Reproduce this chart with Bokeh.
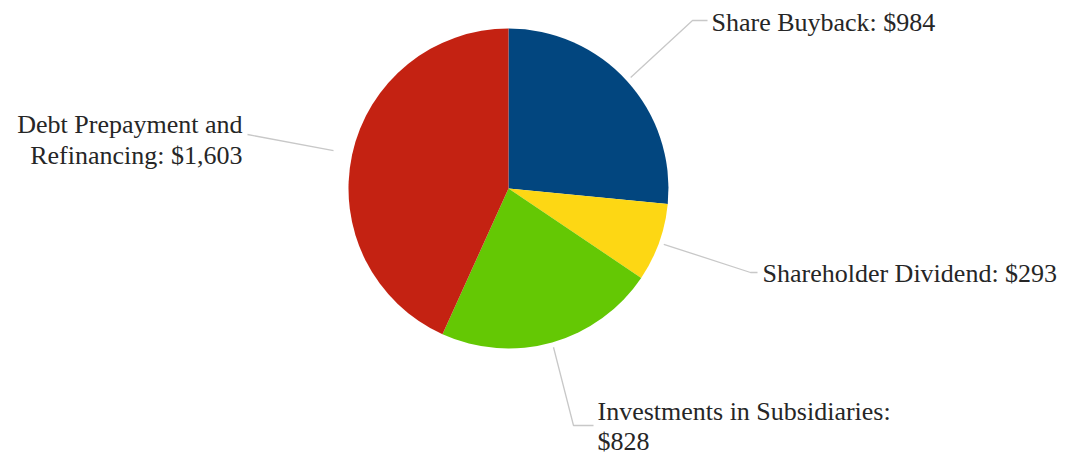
import numpy as np
from bokeh.plotting import figure
from bokeh.models import Range1d, ColumnDataSource
from bokeh.embed import file_html
from bokeh.resources import INLINE
from bokeh.core.properties import value

# ---- data ----
categories = ["Share Buyback", "Shareholder Dividend",
              "Investments in Subsidiaries", "Debt Prepayment and Refinancing"]
amounts = [984, 293, 828, 1603]
colors = ["#02467f", "#fdd714", "#64c804", "#c42212"]
label_texts = [["Share Buyback: $984"],
               ["Shareholder Dividend: $293"],
               ["Investments in Subsidiaries:", "$828"],
               ["Debt Prepayment and", "Refinancing: $1,603"]]

# ---- layout (pixel coords of the picture) ----
W, H = 1065, 455
def Y(py):
    return H - py

CX, CY, R = 508, Y(188), 160
gaps = [5, 5, 5, 19]
elbows = [(692, 20), (750, 272), (573, 425), (247, 134)]
ends = [(707, 20), (757, 272), (593, 425), (247, 134)]
text_x = [711, 762, 597, 242]
text_y = [[22], [273], [411, 441], [124, 155]]
text_align = ["left", "left", "left", "right"]

p = figure(width=W, height=H, output_backend="svg", toolbar_location=None,
           x_range=Range1d(0, W), y_range=Range1d(0, H),
           min_border=0, outline_line_color=None)
p.axis.visible = False
p.grid.visible = False
p.background_fill_color = "white"

vals = np.array(amounts, dtype=float)
frac = vals / vals.sum()
cum_end = np.cumsum(frac)
cum_start = cum_end - frac
src = ColumnDataSource(dict(
    start=np.pi / 2 - 2 * np.pi * cum_end,
    end=np.pi / 2 - 2 * np.pi * cum_start,
    color=colors, cat=categories, amt=amounts))
p.wedge(x=CX, y=CY, radius=R, start_angle="start", end_angle="end",
        direction="anticlock", fill_color="color", line_color=None, source=src)

# leader lines
xs, ys = [], []
mid = 2 * np.pi * (cum_start + frac / 2)
for i in range(len(amounts)):
    r = R + gaps[i]
    sx, sy = CX + r * np.sin(mid[i]), CY + r * np.cos(mid[i])
    xs.append([sx, elbows[i][0], ends[i][0]])
    ys.append([sy, Y(elbows[i][1]), Y(ends[i][1])])
p.multi_line(xs=xs, ys=ys, line_color="#c8c8c8", line_width=1.3)

# labels
tx, ty, tt, ta = [], [], [], []
for i, lines in enumerate(label_texts):
    for j, line in enumerate(lines):
        tx.append(text_x[i]); ty.append(Y(text_y[i][j])); tt.append(line); ta.append(text_align[i])
p.text(x=tx, y=ty, text=tt, text_align=ta, text_baseline="middle",
       text_font=value("Liberation Serif"), text_font_size="26px", text_color="#262626")

open("out.html", "w").write(file_html(p, INLINE))
